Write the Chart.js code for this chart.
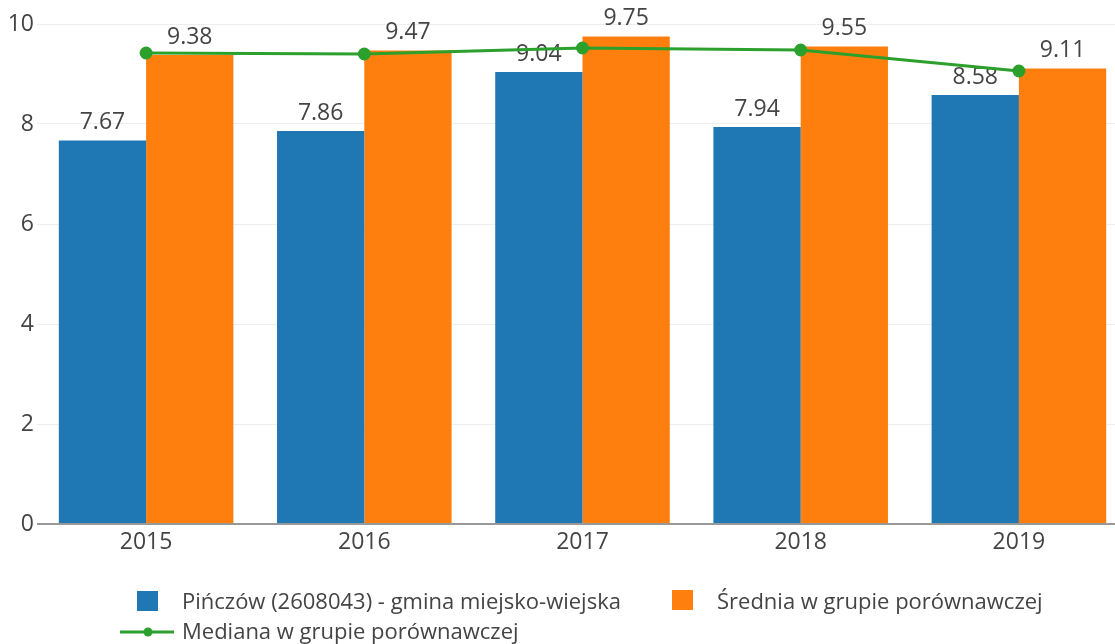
<!DOCTYPE html>
<html>
<head>
<meta charset="utf-8">
<script src="https://cdn.jsdelivr.net/npm/chart.js@4.4.1/dist/chart.umd.min.js"></script>
<style>
  html, body { margin: 0; padding: 0; background: #fff; overflow: hidden; }
  #wrap { position: relative; width: 1115px; height: 644px; overflow: hidden; }
  #c { position: absolute; left: 0; top: 0; }
  .lg { position: absolute; font-family: "Open Sans", sans-serif; font-size: 22px; color: #444; line-height: 26px; white-space: nowrap; }
  .sq { position: absolute; width: 21px; height: 20px; }
</style>
</head>
<body>
<div id="wrap">
  <canvas id="c" width="1136" height="644"></canvas>
  <div class="sq" style="left:137px;top:591px;background:#1f77b4;"></div>
  <div class="lg" style="left:182px;top:587px;">Pińczów (2608043) - gmina miejsko-wiejska</div>
  <div class="sq" style="left:672px;top:590px;background:#ff7f0e;"></div>
  <div class="lg" style="left:717px;top:587px;">Średnia w grupie porównawczej</div>
  <svg style="position:absolute;left:120px;top:624px;" width="56" height="16">
    <line x1="0" y1="8" x2="54" y2="8" stroke="#2ca02c" stroke-width="3"/>
    <circle cx="28" cy="8" r="4.5" fill="#2ca02c"/>
  </svg>
  <div class="lg" style="left:182px;top:617px;">Mediana w grupie porównawczej</div>
</div>
<script>
const categories = ['2015', '2016', '2017', '2018', '2019'];
const pinczow = [7.67, 7.86, 9.04, 7.94, 8.58];
const srednia = [9.38, 9.47, 9.75, 9.55, 9.11];
const mediana = [9.42, 9.40, 9.52, 9.48, 9.06];
const yTicks = [0, 2, 4, 6, 8, 10];

const FONT = '"Open Sans", sans-serif';

const barLabels = {
  id: 'barLabels',
  afterDatasetDraw(chart, args) {
    const ds = chart.data.datasets[args.index];
    if (ds.type !== 'bar') return;
    const ctx = chart.ctx;
    ctx.save();
    ctx.font = '23px ' + FONT;
    ctx.fillStyle = '#444';
    ctx.textAlign = 'center';
    ctx.textBaseline = 'middle';
    args.meta.data.forEach((el, i) => {
      ctx.fillText(ds.data[i].toFixed(2), el.x, el.y - 18);
    });
    ctx.restore();
  }
};

new Chart(document.getElementById('c'), {
  data: {
    labels: categories,
    datasets: [
      {
        type: 'bar',
        label: 'Pińczów (2608043) - gmina miejsko-wiejska',
        data: pinczow,
        backgroundColor: '#1f77b4',
        categoryPercentage: 0.8,
        barPercentage: 1.0,
        order: 1
      },
      {
        type: 'bar',
        label: 'Średnia w grupie porównawczej',
        data: srednia,
        backgroundColor: '#ff7f0e',
        categoryPercentage: 0.8,
        barPercentage: 1.0,
        order: 1
      },
      {
        type: 'line',
        label: 'Mediana w grupie porównawczej',
        data: mediana,
        borderColor: '#2ca02c',
        backgroundColor: '#2ca02c',
        borderWidth: 3,
        pointRadius: 5,
        pointHoverRadius: 5,
        tension: 0,
        order: 0
      }
    ]
  },
  options: {
    responsive: false,
    animation: false,
    layout: { padding: { top: 24, bottom: 80, left: 0, right: 0 } },
    plugins: {
      legend: { display: false },
      tooltip: { enabled: false },
      title: { display: false }
    },
    scales: {
      x: {
        offset: true,
        grid: { display: false, drawTicks: false },
        border: { display: false },
        ticks: { font: { family: FONT, size: 23 }, color: '#444', padding: 5 },
        afterFit(s) { s.height = 40; }
      },
      y: {
        min: 0,
        max: 10,
        afterBuildTicks(s) { s.ticks = yTicks.map(v => ({ value: v })); },
        grid: {
          drawTicks: false,
          color: c => (c.tick && c.tick.value === 0) ? '#999' : '#eee',
          lineWidth: c => (c.tick && c.tick.value === 0) ? 2 : 1
        },
        border: { display: false },
        ticks: { font: { family: FONT, size: 23 }, color: '#444', padding: 3 },
        afterFit(s) { s.width = 37; }
      }
    }
  },
  plugins: [barLabels]
});
</script>
</body>
</html>
